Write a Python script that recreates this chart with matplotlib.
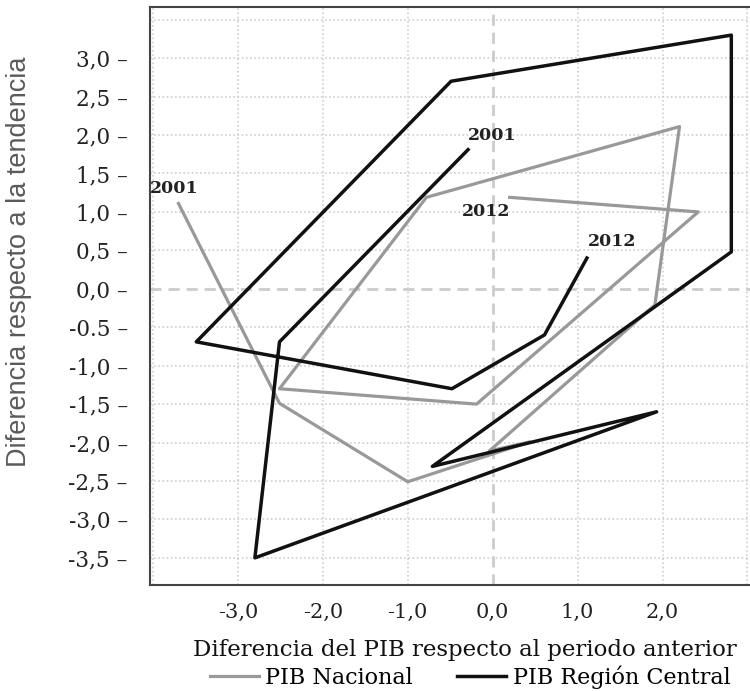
import matplotlib.pyplot as plt

# datos (x: diferencia del PIB, y: diferencia respecto a la tendencia)
nac_x = [-3.70, -2.51, -1.00, 0.44, -0.04, 1.91, 2.20, -0.78, -2.51, -0.19, 2.42, 0.20]
nac_y = [1.11, -1.49, -2.51, -1.99, -2.11, -0.21, 2.11, 1.19, -1.30, -1.50, 1.00, 1.19]

cen_x = [-0.29, -2.51, -2.80, 1.93, -0.71, 2.81, 2.81, -0.49, -3.49, -0.48, 0.61, 1.11]
cen_y = [1.81, -0.69, -3.50, -1.60, -2.31, 0.48, 3.30, 2.70, -0.69, -1.30, -0.60, 0.40]

xticks = [-3, -2, -1, 0, 1, 2]
xtick_labels = ["-3,0", "-2,0", "-1,0", "0,0", "1,0", "2,0"]
yticks = [3.0, 2.5, 2.0, 1.5, 1.0, 0.5, 0.0, -0.5, -1.0, -1.5, -2.0, -2.5, -3.0, -3.5]
ytick_labels = ["3,0", "2,5", "2,0", "1,5", "1,0", "0,5", "0,0", "-0.5",
                "-1,0", "-1,5", "-2,0", "-2,5", "-3,0", "-3,5"]

serif = "DejaVu Serif"

fig = plt.figure(figsize=(7.5, 6.91), dpi=100)
ax = fig.add_axes([0.2, 0.1534, 0.8, 0.8365])

# rejilla punteada
for gx in [-4, -3, -2, -1, 1, 2, 3]:
    ax.axvline(gx, color="#cfcfcf", lw=1.2, ls=(0, (1, 1.5)), zorder=0)
for gy in [-3.5, -3, -2.5, -2, -1.5, -1, -0.5, 0.5, 1, 1.5, 2, 2.5, 3, 3.5]:
    ax.axhline(gy, color="#cfcfcf", lw=1.2, ls=(0, (1, 1.5)), zorder=0)
ax.axvline(0, color="#cccccc", lw=2, ls=(0, (4, 2.5)), zorder=0)
ax.axhline(0, color="#cccccc", lw=2, ls=(0, (4, 2.5)), zorder=0)

ax.plot(nac_x, nac_y, color="#999999", lw=2.3, label="PIB Nacional", zorder=2)
ax.plot(cen_x, cen_y, color="#111111", lw=2.5, label="PIB Región Central", zorder=3)

# etiquetas de años
ax.text(-3.75, 1.30, "2001", fontsize=12.5, fontweight="bold", family=serif,
        ha="center", va="center", color="#222222")
ax.text(-0.01, 2.00, "2001", fontsize=12.5, fontweight="bold", family=serif,
        ha="center", va="center", color="#222222")
ax.text(-0.08, 1.00, "2012", fontsize=12.5, fontweight="bold", family=serif,
        ha="center", va="center", color="#222222")
ax.text(1.40, 0.61, "2012", fontsize=12.5, fontweight="bold", family=serif,
        ha="center", va="center", color="#222222")

ax.set_xlim(-4.035, 3.03)
ax.set_ylim(-3.853, 3.666)

ax.set_xticks(xticks)
ax.set_xticklabels(xtick_labels, family=serif, fontsize=15, color="#222222")
ax.set_yticks(yticks)
ax.set_yticklabels([t + " –" for t in ytick_labels], family=serif, fontsize=15.5,
                   color="#222222")
ax.tick_params(axis="both", length=0)
ax.tick_params(axis="x", pad=13)
ax.tick_params(axis="y", pad=16)

for s in ["left", "top", "bottom"]:
    ax.spines[s].set_color("#444444")
    ax.spines[s].set_linewidth(1.5)
ax.spines["right"].set_visible(False)

fig.text(0.62, 1 - 650 / 691, "Diferencia del PIB respecto al periodo anterior",
         family=serif, fontsize=16.5, ha="center", va="center", color="#111111")
fig.text(0.026, 1 - 262 / 691, "Diferencia respecto a la tendencia",
         family="Liberation Sans", fontsize=19.5, rotation=90,
         ha="center", va="center", color="#5a5a5a")

fig.legend(loc="center", bbox_to_anchor=(0.627, 1 - 677 / 691), ncol=2,
           frameon=False, prop={"family": serif, "size": 16},
           handlelength=2.2, handletextpad=0.3, columnspacing=2.0,
           borderpad=0, borderaxespad=0)

fig.savefig("out.png", dpi=100)
